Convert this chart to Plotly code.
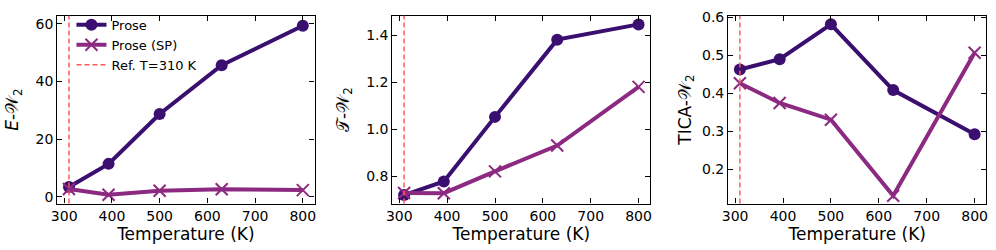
import plotly.graph_objects as go

# ---- data ----
temperatures = [310, 393, 500, 630, 800]
ref_temperature = 310

e_w2_prose = [3.4, 11.4, 28.7, 45.6, 59.3]
e_w2_sp = [2.7, 0.7, 2.1, 2.6, 2.3]

t_w2_prose = [0.719, 0.777, 1.052, 1.381, 1.446]
t_w2_sp = [0.728, 0.727, 0.820, 0.930, 1.180]

tica_w2_prose = [0.462, 0.489, 0.581, 0.408, 0.292]
tica_w2_sp = [0.426, 0.374, 0.330, 0.130, 0.506]

panels = [
    (e_w2_prose, e_w2_sp, "<i>E</i>-𝒲<sub>2</sub>", [-2.35, 62.8], [0, 20, 40, 60], "d", 12),
    (t_w2_prose, t_w2_sp, "𝒯-𝒲<sub>2</sub>", [0.683, 1.483], [0.8, 1.0, 1.2, 1.4], ".1f", 12),
    (tica_w2_prose, tica_w2_sp, "TICA-𝒲<sub>2</sub>", [0.1096, 0.6035], [0.2, 0.3, 0.4, 0.5, 0.6], ".1f", 6),
]

x_ticks = [300, 400, 500, 600, 700, 800]
x_range = [285.5, 824.5]

PROSE_COLOR = "#3b0f70"
SP_COLOR = "#8c2981"
REF_COLOR = "#ff5a5a"

W = 996
H = 250
x_domains = [(51.7, 311), (389.5, 649.5), (728, 988.3)]
y_domain = [(H - 203) / H, (H - 9) / H]

fig = go.Figure()
FONT = "DejaVu Sans"

for i, (prose, sp, ytitle, yr, yt, yfmt, ystand) in enumerate(panels):
    n = "" if i == 0 else str(i + 1)
    xa = "x" + n
    ya = "y" + n
    fig.add_trace(go.Scatter(
        x=temperatures, y=prose, mode="lines+markers", name="Prose",
        line=dict(color=PROSE_COLOR, width=4),
        marker=dict(symbol="circle", size=12, color=PROSE_COLOR),
        xaxis=xa, yaxis=ya, showlegend=(i == 0), cliponaxis=False,
    ))
    fig.add_trace(go.Scatter(
        x=temperatures, y=sp, mode="lines+markers", name="Prose (SP)",
        line=dict(color=SP_COLOR, width=4),
        marker=dict(symbol="x-thin", size=12, color=SP_COLOR,
                    line=dict(color=SP_COLOR, width=2)),
        xaxis=xa, yaxis=ya, showlegend=(i == 0), cliponaxis=False,
    ))
    fig.add_shape(type="line", xref=xa, yref=ya + " domain",
                  x0=ref_temperature, x1=ref_temperature, y0=0, y1=1,
                  line=dict(color=REF_COLOR, width=1.5, dash="5px,3px"))
    d0, d1 = x_domains[i]
    axis_common = dict(
        showline=True, linecolor="black", linewidth=1.2, mirror="allticks",
        ticks="inside", ticklen=5, tickwidth=1.2, tickcolor="black",
        showgrid=False, zeroline=False,
        tickfont=dict(family=FONT, size=14, color="black"),
    )
    fig.update_layout({
        ("xaxis" + n): dict(
            domain=[d0 / W, d1 / W], anchor=ya, range=x_range,
            tickvals=x_ticks,
            title=dict(text="Temperature (K)", standoff=4,
                       font=dict(family=FONT, size=17, color="black")),
            **axis_common,
        ),
        ("yaxis" + n): dict(
            domain=y_domain, anchor=xa, range=yr, tickvals=yt,
            tickformat=yfmt,
            title=dict(text=ytitle, standoff=ystand,
                       font=dict(family=FONT, size=17, color="black")),
            **axis_common,
        ),
    })

# legend entry for reference line
fig.add_trace(go.Scatter(
    x=[None], y=[None], mode="lines", name="Ref. T=310 K",
    line=dict(color=REF_COLOR, width=1.5, dash="5px,3px"),
    xaxis="x", yaxis="y", showlegend=True,
))

fig.update_layout(
    width=W, height=H,
    margin=dict(l=0, r=0, t=0, b=0),
    paper_bgcolor="white", plot_bgcolor="white",
    font=dict(family=FONT, size=14, color="black"),
    legend=dict(x=66 / W, y=1 - 3 / H, xanchor="left", yanchor="top",
                bgcolor="rgba(0,0,0,0)", borderwidth=0,
                font=dict(family=FONT, size=13, color="black"),
                tracegroupgap=0),
)

fig.write_html(
    "out.html",
    config={"displayModeBar": False},
    post_script="document.body.style.margin='0';document.body.style.overflow='hidden';",
)
